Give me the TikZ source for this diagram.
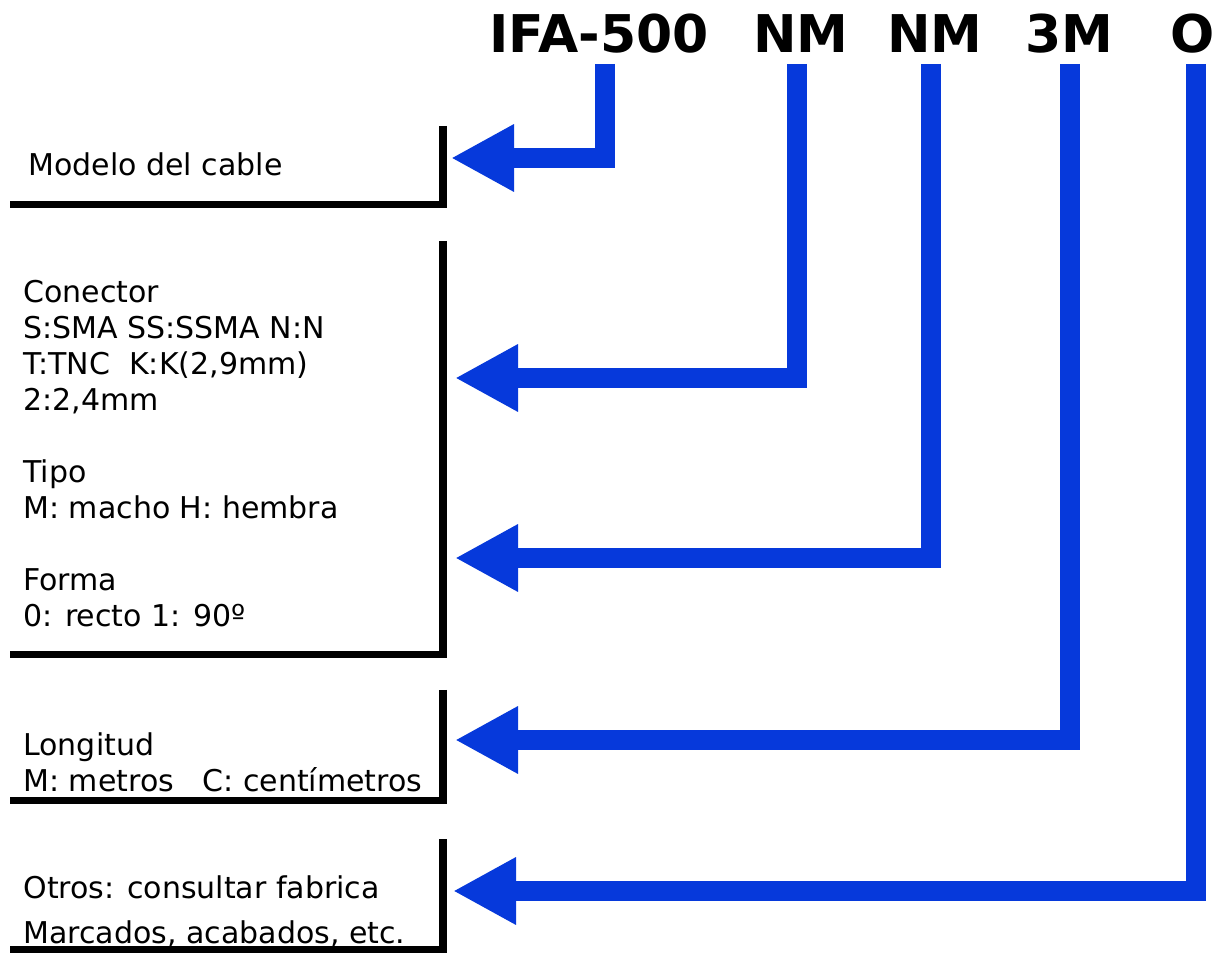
\documentclass[tikz,border=0pt]{standalone}
\usepackage{fontspec}
\setmainfont{DejaVu Sans}
\usetikzlibrary{arrows.meta}
\definecolor{codeblue}{RGB}{6,57,219}

\begin{document}
\begin{tikzpicture}[x=0.5pt,y=-0.5pt,
  code/.style={font=\bfseries\fontsize{26}{30}\selectfont,inner sep=0pt,
               outer xsep=0pt,outer ysep=5.5pt,text depth=0pt,anchor=base},
  desc/.style={font=\fontsize{15}{18}\selectfont,align=left,inner sep=0pt,
               anchor=north west},
  brk/.style={line width=3.75pt},
  arr/.style={codeblue,line width=10pt,-{Triangle[length=31.5pt,width=31.5pt]}}]
\useasboundingbox (0,0) rectangle (1216,956);
% code of the cable
\node[code] (ifa) at (599,53) {IFA-500};
\node[code] (conA) at (801,53) {NM};
\node[code] (conB) at (935,53) {NM};
\node[code] (len) at (1069,53) {3M};
\node[code] (opt) at (1193,53) {O};
% what each part means
\node[desc] (model) at (28,152) {Modelo del cable};
\node[desc] (conn) at (23,280) {Conector\\S:SMA SS:SSMA N:N\\T:TNC\ \ K:K(2,9mm)\\2:2,4mm\\[18pt]Tipo\\M: macho H: hembra\\[18pt]Forma\\0: recto 1: 90º};
\node[desc] (lng) at (23,732) {Longitud\\M: metros\ \ \ C: centímetros};
\node[desc] (misc) at (23,875) {Otros: consultar fabrica\\[4.5pt]Marcados, acabados, etc.};
% brackets
\draw[brk] (443,126) |- (10,204.5);
\draw[brk] (443,241) |- (10,654.5);
\draw[brk] (443,690) |- (10,800.5);
\draw[brk] (443,839) |- (10,949.5);
% arrow tips
\coordinate (tModel) at (451,158);
\coordinate (tConA) at (455,378);
\coordinate (tConB) at (455,558);
\coordinate (tLen) at (455,740);
\coordinate (tOpt) at (453,891);
\draw[arr] ([xshift=2.75pt]ifa.south) |- (tModel);
\draw[arr] ([xshift=-2pt]conA.south) |- (tConA);
\draw[arr] ([xshift=-2pt]conB.south) |- (tConB);
\draw[arr] ([xshift=0.5pt]len.south) |- (tLen);
\draw[arr] ([xshift=1.5pt]opt.south) |- (tOpt);
\end{tikzpicture}
\end{document}
